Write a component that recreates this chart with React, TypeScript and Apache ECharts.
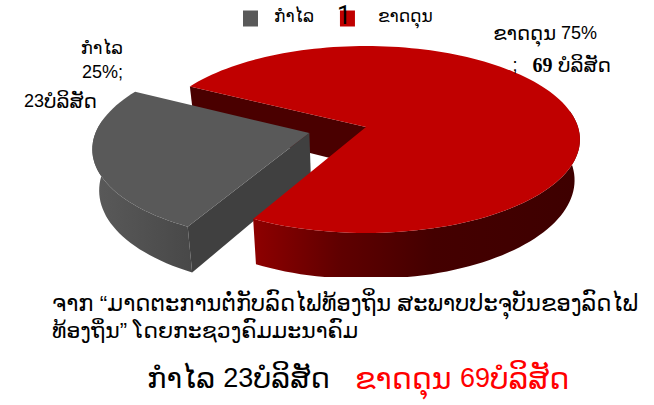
import React, { useEffect, useRef } from "react";
import * as echarts from "echarts";

const categories = ["ກຳໄລ", "ຂາດດຸນ"];
const companyCounts = [23, 69];
const sharePercents = [25, 75];
const companyUnit = "ບໍລິສັດ";

const sourceLines = [
  "ຈາກ “ມາດຕະການຕໍ່ກັບລົດໄຟທ້ອງຖິ່ນ ສະພາບປະຈຸບັນຂອງລົດໄຟ",
  "ທ້ອງຖິ່ນ” ໂດຍກະຊວງຄົມມະນາຄົມ",
];

const LAO_FONT = '"Liberation Sans", "DejaVu Sans", sans-serif';

// Perspective pie: a tilted circle projected towards the viewer.
const CX = 366;
const CY = 127;
const RX = 212;
const RY = 91.8;
const PERSPECTIVE = 0.1337;
const BASE_DEPTH = 40;
const BASE_INSET = 0.975;
const FLOOR_Y = 277;
const START_DEG = 118;

const project = (px: number, py: number) => {
  const s = 1 / (1 - PERSPECTIVE * py);
  return { x: CX + RX * px * s, y: CY + RY * py * s, s };
};

const topPoint = (deg: number, ex: number, ey: number) => {
  const t = (deg * Math.PI) / 180;
  return project(Math.cos(t) + ex, Math.sin(t) + ey);
};

const lowered = (p: { x: number; y: number; s: number }) => [
  CX + (p.x - CX) * BASE_INSET,
  Math.min(p.y + BASE_DEPTH * p.s, FLOOR_Y),
];

const arc = (from: number, to: number, ex: number, ey: number) => {
  const pts = [];
  const steps = Math.max(8, Math.ceil(Math.abs(to - from) / 2));
  for (let i = 0; i <= steps; i++) {
    pts.push(topPoint(from + ((to - from) * i) / steps, ex, ey));
  }
  return pts;
};

const poly = (points: number[][], fill: any) => ({
  type: "polygon",
  shape: { points },
  style: { fill },
});

const hGradient = (stops: [number, string][]) =>
  new echarts.graphic.LinearGradient(
    0,
    0,
    1,
    0,
    stops.map(([offset, color]) => ({ offset, color })),
  );

const total = companyCounts.reduce((a, b) => a + b, 0);
const sweepOf = (v: number) => (v / total) * 360;

// The profit slice is pulled out of the pie along the plane.
const renderProfit = (_: any, api: any) => {
  const sweep = sweepOf(api.value(0));
  const a0 = START_DEG;
  const a1 = START_DEG + sweep;
  const ex = -0.265;
  const ey = 0.065;
  const top = arc(a0, a1, ex, ey);
  const apex = project(ex, ey);
  const near = top[0];
  const side = arc(a0, a1 - 20, ex, ey);
  return {
    type: "group",
    children: [
      poly(
        [...side.map((p) => [p.x, p.y]), ...side.slice().reverse().map(lowered)],
        hGradient([
          [0, "#5a5a5a"],
          [1, "#484848"],
        ]),
      ),
      poly(
        [[apex.x, apex.y], [near.x, near.y], lowered(near), lowered(apex)],
        "#404040",
      ),
      poly([[apex.x, apex.y], ...top.map((p) => [p.x, p.y])], "#595959"),
    ],
  };
};

// Back wall of the notch left by the pulled-out slice.
const renderLossWall = () => {
  const a0 = START_DEG + sweepOf(companyCounts[0]);
  const edge = topPoint(a0, 0, 0);
  const apex = project(0, 0);
  return poly(
    [[edge.x, edge.y], [apex.x, apex.y], lowered(apex), lowered(edge)],
    "#4a0000",
  );
};

const renderLoss = (_: any, api: any) => {
  const sweep = sweepOf(api.value(0));
  const a0 = START_DEG + sweepOf(companyCounts[0]);
  const a1 = a0 + sweep;
  const top = arc(a0, a1, 0, 0);
  const apex = project(0, 0);
  const side = arc(350, a1, 0, 0);
  return {
    type: "group",
    children: [
      poly(
        [...side.map((p) => [p.x, p.y]), ...side.slice().reverse().map(lowered)],
        hGradient([
          [0, "#8e0000"],
          [0.26, "#600000"],
          [0.55, "#440000"],
          [1, "#3e0000"],
        ]),
      ),
      poly([[apex.x, apex.y], ...top.map((p) => [p.x, p.y])], "#c00000"),
    ],
  };
};

// Lao runs are set larger than the Latin digits beside them.
const label = (
  text: string,
  x: number,
  y: number,
  laoSize: number,
  digitSize: number,
  align: string,
  fill = "#000000",
) => ({
  type: "text",
  x,
  y,
  z: 20,
  style: {
    text,
    fontSize: laoSize,
    fontFamily: LAO_FONT,
    fill,
    align,
    verticalAlign: "middle",
    rich: {
      l: { fontSize: laoSize, fontFamily: LAO_FONT, fill },
      d: { fontSize: digitSize, fontFamily: LAO_FONT, fill },
      n: {
        fontSize: 20,
        fontWeight: "bold",
        fontFamily: '"Liberation Serif", serif',
        fill,
      },
    },
  },
});

const legendRun = { fontSize: 17, fontFamily: LAO_FONT, color: "#000000" };

export default function App() {
  const ref = useRef<HTMLDivElement>(null);

  useEffect(() => {
    const chart = echarts.init(ref.current!, undefined, { renderer: "svg" });
    chart.setOption({
      animation: false,
      backgroundColor: "#ffffff",
      legend: {
        data: categories,
        left: 238,
        top: 3,
        itemWidth: 15,
        itemHeight: 16,
        itemGap: 26,
        icon: "rect",
        formatter: (name: string) =>
          name === categories[0] ? `{first|${name}}` : `{second|${name}}`,
        textStyle: {
          ...legendRun,
          padding: [0, 0, 4, 11],
          rich: {
            first: { ...legendRun },
            second: { ...legendRun, padding: [0, 0, 0, 7] },
          },
        },
      },
      series: [
        {
          type: "custom",
          name: categories[1],
          coordinateSystem: "none",
          z: 1,
          itemStyle: { color: "#c00000" },
          renderItem: renderLossWall,
          data: [[companyCounts[1]]],
          silent: true,
        },
        {
          type: "custom",
          name: categories[0],
          coordinateSystem: "none",
          z: 2,
          itemStyle: { color: "#595959" },
          renderItem: renderProfit,
          data: [[companyCounts[0]]],
          silent: true,
        },
        {
          type: "custom",
          name: categories[1],
          coordinateSystem: "none",
          z: 3,
          itemStyle: { color: "#c00000" },
          renderItem: renderLoss,
          data: [[companyCounts[1]]],
          silent: true,
        },
      ],
      graphic: [
        {
          type: "text",
          x: 344,
          y: 15,
          z: 20,
          style: {
            text: "1",
            fontSize: 25,
            fontFamily: "Roboto, sans-serif",
            fill: "#000000",
            align: "center",
            verticalAlign: "middle",
          },
        },
        label(categories[0], 123, 48, 18, 18, "right"),
        label(`{d|${sharePercents[0]}%;}`, 123, 72, 18, 18, "right"),
        label(`{d|${companyCounts[0]}}{l|${companyUnit}}`, 97, 101, 20, 18, "right"),
        label(`{l|${categories[1]}}{d| ${sharePercents[1]}%}`, 597, 33, 19.5, 18, "right"),
        label(`{d|;   }{n|${companyCounts[1]}}{l| ${companyUnit}}`, 611, 65, 20, 18, "right"),
        label(sourceLines[0], 52, 303, 22.6, 22, "left"),
        label(sourceLines[1], 52, 330, 22, 22, "left"),
        label(
          `{l|${categories[0]} }{d|${companyCounts[0]}}{l|${companyUnit}}`,
          147,
          378,
          29,
          27,
          "left",
        ),
        label(
          `{l|${categories[1]} }{d|${companyCounts[1]}}{l|${companyUnit}}`,
          355,
          378,
          30,
          27,
          "left",
          "#ff0000",
        ),
      ],
    });
    return () => chart.dispose();
  }, []);

  return (
    <div
      ref={ref}
      style={{ position: "fixed", left: 0, top: 0, width: 654, height: 405 }}
    />
  );
}
